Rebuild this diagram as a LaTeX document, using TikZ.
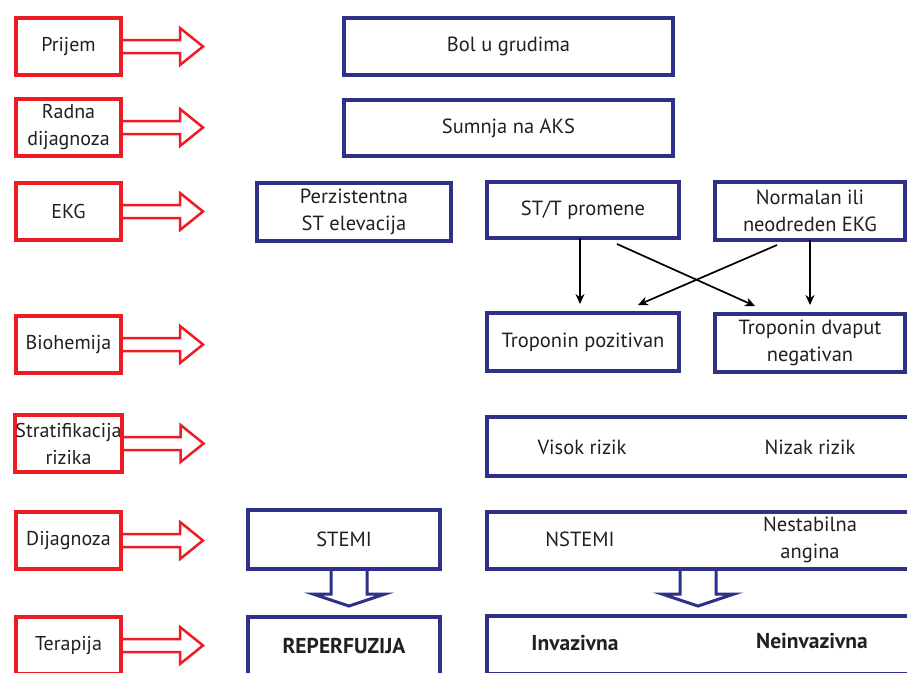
\documentclass[tikz,border=0pt]{standalone}
\usepackage{fontspec}
\setmainfont{PT Sans}
\usetikzlibrary{calc,arrows.meta}
\definecolor{navy}{RGB}{46,49,135}
\definecolor{redc}{RGB}{237,28,36}
\definecolor{ink}{RGB}{35,31,32}
\tikzset{
  lab/.style={draw=redc, line width=4pt, fill=white, minimum width=105pt, minimum height=57pt,
    inner sep=0pt, outer sep=0pt, align=center, text=ink, font=\fontsize{20}{27}\selectfont},
  bbox/.style={draw=navy, line width=4.5pt, inner sep=0pt, outer sep=0pt, align=center, text=ink,
    font=\fontsize{20.5}{27}\selectfont},
  txt/.style={align=center, inner sep=0pt, text=ink, font=\fontsize{20.5}{27}\selectfont},
  btxt/.style={txt, font=\fontsize{21.5}{27}\selectfont\bfseries},
  redarr/.style={draw=redc, line width=2.5pt, line join=miter},
  bluearr/.style={draw=navy, line width=3pt, line join=miter},
  arr/.style={-{Stealth[length=10pt,width=9pt]}, line width=1.7pt, black},
  pics/redarrow/.style={code={\draw[redarr] (0,-6.5) -- (59,-6.5) -- (59,-18.5) -- (82,0) -- (59,18.5) -- (59,6.5) -- (0,6.5);}},
  pics/hollowdown/.style={code={\draw[bluearr] (-18,0) -- (-18,25) -- (-36,25) -- (0,37) -- (36,25) -- (18,25) -- (18,0);}}
}
\begin{document}
\begin{tikzpicture}[x=1pt,y=-1pt]
\useasboundingbox (0,0) rectangle (907,672);
\clip (0,0) rectangle (907,672);
% red stage labels
\node[lab] (l1) at (68.5,46.5) {Prijem};
\node[lab] (l2) at (68.5,127.5) {Radna\\dijagnoza};
\node[lab] (l3) at (68.5,211.5) {EKG};
\node[lab] (l4) at (68.5,344.5) {Biohemija};
\node[lab] (l5) at (68.5,443.5) {Stratifikacija\\rizika};
\node[lab] (l6) at (68.5,540.5) {Dijagnoza};
\node[lab] (l7) at (68.5,645.5) {Terapija};
\foreach \n in {l1,l2,l3,l4,l5,l6,l7}{ \pic at (\n.east) {redarrow}; }
% blue boxes
\node[bbox, minimum width=329pt, minimum height=57pt] (bol) at (508.5,46.5) {Bol u grudima};
\node[bbox, minimum width=329pt, minimum height=56pt] (sum) at (508.5,128) {Sumnja na AKS};
\node[bbox, minimum width=194pt, minimum height=58pt] (perz) at (354,212) {Perzistentna\\ST elevacija};
\node[bbox, minimum width=192pt, minimum height=56pt] (stt) at (583,210) {ST/T promene};
\node[bbox, minimum width=190pt, minimum height=58pt] (norm) at (810,211) {Normalan ili\\neodreden EKG};
\node[bbox, minimum width=192pt, minimum height=58pt] (tpos) at (583,342) {Troponin pozitivan};
\node[bbox, minimum width=190pt, minimum height=58pt] (tneg) at (810,343) {Troponin dvaput\\negativan};
\node[bbox, minimum width=453pt, minimum height=59pt] (risk) at (713.5,446.5) {};
\node[txt] (visok) at (582,447) {Visok rizik};
\node[txt] (nizak) at (810,447) {Nizak rizik};
\node[bbox, minimum width=192pt, minimum height=59pt] (stemi) at (344,539.5) {STEMI};
\node[bbox, minimum width=453pt, minimum height=57pt] (nst) at (713.5,540.5) {};
\node[txt] (nstemi) at (580,539) {NSTEMI};
\node[txt] (nang) at (810,540) {Nestabilna\\angina};
\node[bbox, minimum width=192pt, minimum height=58pt, font=\fontsize{21.5}{27}\selectfont\bfseries] (rep) at (344,646) {REPERFUZIJA};
\node[bbox, minimum width=453pt, minimum height=58pt] (inv) at (713.5,645) {};
\node[btxt] (invt) at (575,643) {Invazivna};
\node[btxt] (ninvt) at (812,641) {Neinvazivna};
% black arrows
\draw[arr] ($(stt.south)+(-3,0)$) -- ($(tpos.north)+(-3,-9)$);
\draw[arr] (norm.south) -- ($(tneg.north)+(0,-9)$);
\draw[arr] ($(stt.south)+(34,6)$) -- ($(tneg.north)+(-55,-8)$);
\draw[arr] ($(norm.south)+(-33,5)$) -- ($(tpos.north)+(55,-8)$);
% hollow blue arrows
\pic at ($(stemi.south)+(5,0)$) {hollowdown};
\pic at ($(nst.south)+(-15.5,0)$) {hollowdown};
\end{tikzpicture}
\end{document}
